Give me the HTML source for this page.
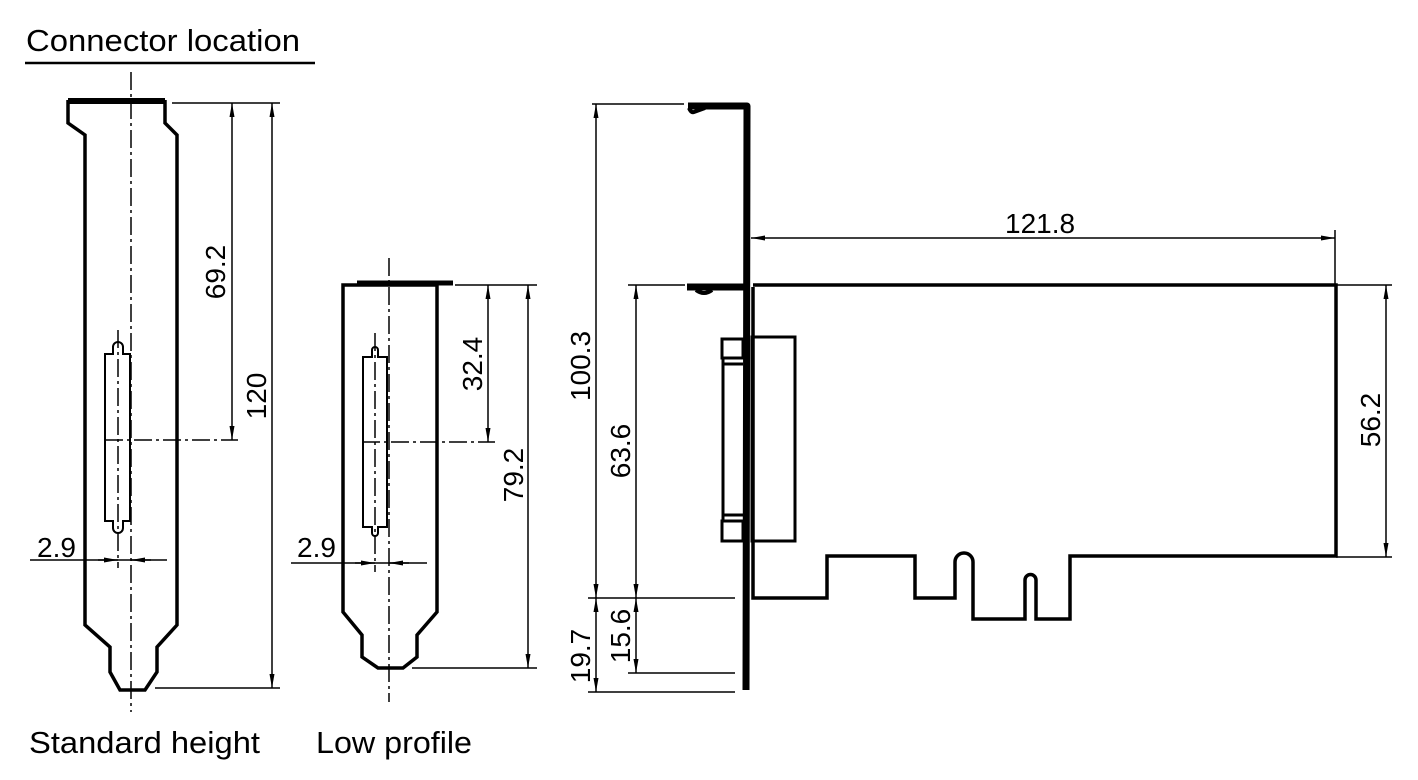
<!DOCTYPE html>
<html><head><meta charset="utf-8"><style>
html,body{margin:0;padding:0;background:#fff;}
svg{display:block;}
text{font-family:"Liberation Sans",Arial,sans-serif;fill:#000;}
</style></head><body>
<svg width="1418" height="780" viewBox="0 0 1418 780" xmlns="http://www.w3.org/2000/svg">
<defs>
<marker id="a" viewBox="0 0 14 6" refX="14" refY="3" markerWidth="14" markerHeight="6" markerUnits="userSpaceOnUse" orient="auto-start-reverse">
<path d="M0,0.5 L14,3 L0,5.5 Z" fill="#000"/>
</marker>
</defs>
<!-- Title -->
<text x="26" y="51" font-size="31" textLength="274" lengthAdjust="spacingAndGlyphs">Connector location</text>
<line x1="25" y1="63" x2="315" y2="63" stroke="#000" stroke-width="2.5"/>
<text x="29" y="753" font-size="31" textLength="231" lengthAdjust="spacingAndGlyphs">Standard height</text>
<text x="316" y="753" font-size="31" textLength="156" lengthAdjust="spacingAndGlyphs">Low profile</text>

<g fill="none" stroke="#000">
<!-- Standard bracket -->
<path d="M68,100 L68,123 L85,135 L85,625 L110,647 L110,672 L120,690 L145,690 L157,672 L157,647 L177,625 L177,135 L165,123 L165,100" stroke-width="3.5" stroke-linejoin="miter"/>
<line x1="68" y1="101" x2="165" y2="101" stroke-width="6"/>
<line x1="131" y1="72" x2="131" y2="712" stroke-width="1.5" stroke-dasharray="18,4,3,4"/>
<path d="M105,354 L113,354 L113,347 A5,5 0 0 1 123,347 L123,354 L130,354 L130,521 L123,521 L123,528 A5,5 0 0 1 113,528 L113,521 L105,521 Z" stroke-width="2"/>
<line x1="118" y1="330" x2="118" y2="568" stroke-width="1.5" stroke-dasharray="18,4,3,4"/>
<line x1="105" y1="440" x2="238" y2="440" stroke-width="1.5" stroke-dasharray="18,4,3,4"/>
<line x1="172" y1="103" x2="280" y2="103" stroke-width="1.5"/>
<line x1="155" y1="688" x2="280" y2="688" stroke-width="1.5"/>
<line x1="232" y1="103" x2="232" y2="440" stroke-width="1.5" marker-start="url(#a)" marker-end="url(#a)"/>
<line x1="272" y1="103" x2="272" y2="688" stroke-width="1.5" marker-start="url(#a)" marker-end="url(#a)"/>
<line x1="30" y1="560" x2="167" y2="560" stroke-width="1.5"/>
<line x1="98" y1="560" x2="118" y2="560" stroke-width="1.5" marker-end="url(#a)"/>
<line x1="151" y1="560" x2="131" y2="560" stroke-width="1.5" marker-end="url(#a)"/>

<!-- Low profile bracket -->
<path d="M437,285 L343,285 L343,612 L362,635 L362,657 L378,668 L403,668 L417,657 L417,635 L437,612 Z" stroke-width="3.5"/>
<line x1="357" y1="283" x2="453" y2="283" stroke-width="5"/>
<line x1="389" y1="258" x2="389" y2="702" stroke-width="1.5" stroke-dasharray="18,4,3,4"/>
<path d="M363,357 L372,357 L372,350 A3,3 0 0 1 378,350 L378,357 L387,357 L387,527 L378,527 L378,533 A3,3 0 0 1 372,533 L372,527 L363,527 Z" stroke-width="2"/>
<line x1="375" y1="333" x2="375" y2="572" stroke-width="1.5" stroke-dasharray="18,4,3,4"/>
<line x1="362" y1="442" x2="495" y2="442" stroke-width="1.5" stroke-dasharray="18,4,3,4"/>
<line x1="455" y1="285" x2="537" y2="285" stroke-width="1.5"/>
<line x1="412" y1="668" x2="537" y2="668" stroke-width="1.5"/>
<line x1="488" y1="285" x2="488" y2="442" stroke-width="1.5" marker-start="url(#a)" marker-end="url(#a)"/>
<line x1="528" y1="285" x2="528" y2="668" stroke-width="1.5" marker-start="url(#a)" marker-end="url(#a)"/>
<line x1="291" y1="563" x2="427" y2="563" stroke-width="1.5"/>
<line x1="355" y1="563" x2="375" y2="563" stroke-width="1.5" marker-end="url(#a)"/>
<line x1="409" y1="563" x2="389" y2="563" stroke-width="1.5" marker-end="url(#a)"/>

<!-- Card side view -->
<path d="M688,106 L747,106 L746,690" stroke-width="7" stroke-linejoin="round"/>
<path d="M689,108 Q691,113 694,112 L705,108" stroke-width="4"/>
<path d="M687,287 L744,287" stroke-width="7"/>
<path d="M696,290 Q704,296 712,290" stroke-width="4"/>
<path d="M753,287 L753,598 L827,598 L827,556 L915,556 L915,598 L955,598 L955,562 A9,9 0 0 1 973,562 L973,619 L1025,619 L1025,580 A5.5,5.5 0 0 1 1036,580 L1036,619 L1070,619 L1070,556 L1336,556 L1336,285 L753,285" stroke-width="3.5"/>
<rect x="752" y="337" width="43" height="204" stroke-width="3"/>
<rect x="722" y="339" width="21" height="19" stroke-width="3"/>
<rect x="722" y="521" width="21" height="20" stroke-width="3"/>
<line x1="723" y1="358" x2="723" y2="521" stroke-width="3"/>
<line x1="723" y1="364" x2="743" y2="364" stroke-width="3"/>
<line x1="723" y1="515" x2="743" y2="515" stroke-width="3"/>

<!-- dims card -->
<line x1="751" y1="238" x2="1335" y2="238" stroke-width="1.5" marker-start="url(#a)" marker-end="url(#a)"/>
<line x1="1335" y1="230" x2="1335" y2="285" stroke-width="1.5"/>
<line x1="1336" y1="285" x2="1392" y2="285" stroke-width="1.5"/>
<line x1="1336" y1="557" x2="1392" y2="557" stroke-width="1.5"/>
<line x1="1386" y1="285" x2="1386" y2="557" stroke-width="1.5" marker-start="url(#a)" marker-end="url(#a)"/>
<line x1="592" y1="104" x2="684" y2="104" stroke-width="1.5"/>
<line x1="628" y1="285" x2="685" y2="285" stroke-width="1.5"/>
<line x1="588" y1="598" x2="735" y2="598" stroke-width="1.5"/>
<line x1="628" y1="673" x2="735" y2="673" stroke-width="1.5"/>
<line x1="588" y1="692" x2="735" y2="692" stroke-width="1.5"/>
<line x1="596" y1="104" x2="596" y2="598" stroke-width="1.5" marker-start="url(#a)" marker-end="url(#a)"/>
<line x1="596" y1="598" x2="596" y2="692" stroke-width="1.5" marker-start="url(#a)" marker-end="url(#a)"/>
<line x1="636" y1="285" x2="636" y2="598" stroke-width="1.5" marker-start="url(#a)" marker-end="url(#a)"/>
<line x1="636" y1="598" x2="636" y2="673" stroke-width="1.5" marker-start="url(#a)" marker-end="url(#a)"/>
</g>

<!-- dimension texts -->
<g font-size="28">
<text x="1005" y="233">121.8</text>
<text x="37" y="557">2.9</text>
<text x="297" y="557">2.9</text>
<text transform="translate(225,272) rotate(-90)" text-anchor="middle">69.2</text>
<text transform="translate(266,396) rotate(-90)" text-anchor="middle">120</text>
<text transform="translate(482,364) rotate(-90)" text-anchor="middle">32.4</text>
<text transform="translate(523,475) rotate(-90)" text-anchor="middle">79.2</text>
<text transform="translate(590,366) rotate(-90)" text-anchor="middle">100.3</text>
<text transform="translate(630,451) rotate(-90)" text-anchor="middle">63.6</text>
<text transform="translate(590,656) rotate(-90)" text-anchor="middle">19.7</text>
<text transform="translate(630,636) rotate(-90)" text-anchor="middle">15.6</text>
<text transform="translate(1380,420) rotate(-90)" text-anchor="middle">56.2</text>
</g>
</svg>
</body></html>
